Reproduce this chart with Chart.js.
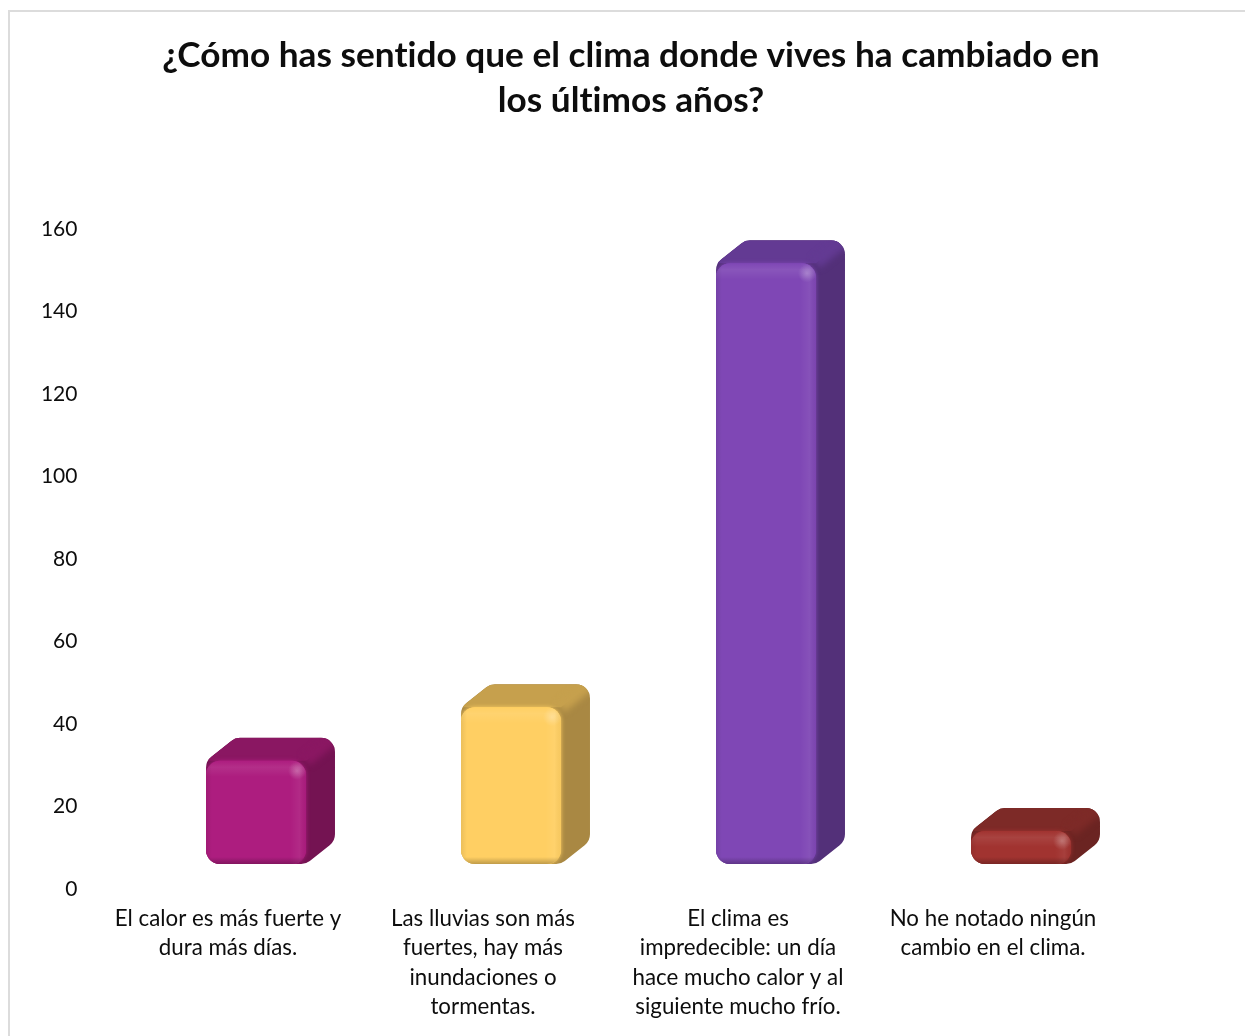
<!DOCTYPE html>
<html lang="es">
<head>
<meta charset="utf-8">
<title>Clima</title>
<script src="https://cdn.jsdelivr.net/npm/chart.js@4"></script>
<style>
    html, body { margin: 0; padding: 0; background: #fff; overflow: hidden; }
    #wrap { position: relative; width: 1245px; height: 1036px; overflow: hidden; }
    #frame { position: absolute; left: 8px; top: 10px; width: 1300px; height: 1100px; border: 2px solid #dcdcdc; box-sizing: border-box; }
    canvas { position: absolute; left: 0; top: 0; }
</style>
</head>
<body>
<div id="wrap">
    <div id="frame"></div>
    <canvas id="climaChart" width="1245" height="1036"></canvas>
</div>
<script>
const titleLines = ['¿Cómo has sentido que el clima donde vives ha cambiado en', 'los últimos años?'];
const categories = [
    ['El calor es más fuerte y', 'dura más días.'],
    ['Las lluvias son más', 'fuertes, hay más', 'inundaciones o', 'tormentas.'],
    ['El clima es', 'impredecible: un día', 'hace mucho calor y al', 'siguiente mucho frío.'],
    ['No he notado ningún', 'cambio en el clima.']
];
const responses = [25, 38, 145.6, 8];
const frontColors = ['#ad1d7f', '#ffcf63', '#7f47b5', '#a13330'];
const topColors = ['#8a1762', '#c6a04d', '#633a93', '#7d2a27'];
const sideColors = ['#741352', '#a98843', '#533079', '#6b2422'];

// The bars sit on a floor above the axis line and lean back like Excel's 3D columns
const FLOOR_LIFT = 25;
const BAR_SHIFT = 28;
const DEPTH_X = 29;
const DEPTH_Y = 23;

function roundedPoly(ctx, pts, r) {
    const last = pts[pts.length - 1];
    ctx.beginPath();
    ctx.moveTo((last[0] + pts[0][0]) / 2, (last[1] + pts[0][1]) / 2);
    pts.forEach((p, i) => {
        const next = pts[(i + 1) % pts.length];
        ctx.arcTo(p[0], p[1], next[0], next[1], r);
    });
    ctx.closePath();
}

function drawBar3d(ctx, bar, i) {
    const left = bar.x + BAR_SHIFT - bar.width / 2;
    const right = left + bar.width;
    const top = bar.y - FLOOR_LIFT;
    const bottom = bar.base - FLOOR_LIFT;
    const r = Math.min(14, (bottom - top) / 2);

    // outline of the whole block, painted as the side face
    ctx.save();
    roundedPoly(ctx, [
        [left, bottom], [left, top],
        [left + DEPTH_X, top - DEPTH_Y], [right + DEPTH_X, top - DEPTH_Y],
        [right + DEPTH_X, bottom - DEPTH_Y], [right, bottom]
    ], r);
    ctx.fillStyle = sideColors[i];
    ctx.fill();
    ctx.clip();

    // top face
    ctx.beginPath();
    ctx.moveTo(left, top);
    ctx.lineTo(left + DEPTH_X, top - DEPTH_Y);
    ctx.lineTo(right + DEPTH_X, top - DEPTH_Y);
    ctx.lineTo(right, top);
    ctx.closePath();
    ctx.fillStyle = topColors[i];
    ctx.fill();

    // soft ridge between the top and the side
    ctx.filter = 'blur(3px)';
    ctx.beginPath();
    ctx.moveTo(right, top);
    ctx.lineTo(right + DEPTH_X, top - DEPTH_Y);
    ctx.strokeStyle = topColors[i];
    ctx.lineWidth = 12;
    ctx.stroke();
    ctx.filter = 'none';

    // front face outline bleeds a little into the darker faces
    roundedPoly(ctx, [[left, top], [right, top], [right, bottom], [left, bottom]], r);
    ctx.shadowColor = frontColors[i];
    ctx.shadowBlur = 4;
    ctx.fillStyle = frontColors[i];
    ctx.fill();
    ctx.restore();

    // front face with its bevels
    ctx.save();
    roundedPoly(ctx, [[left, top], [right, top], [right, bottom], [left, bottom]], r);
    ctx.fillStyle = frontColors[i];
    ctx.fill();
    ctx.clip();

    const topBevel = ctx.createLinearGradient(0, top, 0, top + 16);
    topBevel.addColorStop(0, 'rgba(255,255,255,0)');
    topBevel.addColorStop(0.4, 'rgba(255,255,255,0.08)');
    topBevel.addColorStop(1, 'rgba(255,255,255,0)');
    ctx.fillStyle = topBevel;
    ctx.fillRect(left, top, bar.width, 16);

    const rightBevel = ctx.createLinearGradient(right - 16, 0, right, 0);
    rightBevel.addColorStop(0, 'rgba(255,255,255,0)');
    rightBevel.addColorStop(0.6, 'rgba(255,255,255,0.06)');
    rightBevel.addColorStop(1, 'rgba(0,0,0,0.03)');
    ctx.fillStyle = rightBevel;
    ctx.fillRect(right - 16, top, 16, bottom - top);

    const leftBevel = ctx.createLinearGradient(left, 0, left + 6, 0);
    leftBevel.addColorStop(0, 'rgba(0,0,0,0.08)');
    leftBevel.addColorStop(1, 'rgba(0,0,0,0)');
    ctx.fillStyle = leftBevel;
    ctx.fillRect(left, top, 6, bottom - top);

    const bottomBevel = ctx.createLinearGradient(0, bottom - 7, 0, bottom);
    bottomBevel.addColorStop(0, 'rgba(0,0,0,0)');
    bottomBevel.addColorStop(1, 'rgba(0,0,0,0.25)');
    ctx.fillStyle = bottomBevel;
    ctx.fillRect(left, bottom - 7, bar.width, 7);

    // glint on the upper right corner
    const glint = ctx.createRadialGradient(right - 9, top + 10, 0, right - 9, top + 10, 9);
    glint.addColorStop(0, 'rgba(255,255,255,0.25)');
    glint.addColorStop(1, 'rgba(255,255,255,0)');
    ctx.fillStyle = glint;
    ctx.fillRect(right - 18, top + 1, 18, 18);
    ctx.restore();
}

const bar3dPlugin = {
    id: 'bar3d',
    beforeDraw(chart) {
        // a tiny spacing switches off Lato's "ti" ligature
        chart.ctx.letterSpacing = '0.01px';
    },
    beforeDatasetDraw(chart, args) {
        args.meta.data.forEach((bar, i) => {
            drawBar3d(chart.ctx, bar.getProps(['x', 'y', 'base', 'width'], true), i);
        });
        return false;
    }
};

const ctx = document.getElementById('climaChart').getContext('2d');
new Chart(ctx, {
    type: 'bar',
    data: {
        labels: categories,
        datasets: [{
            data: responses,
            backgroundColor: frontColors,
            barPercentage: 0.392,
            categoryPercentage: 1
        }]
    },
    options: {
        responsive: false,
        animation: false,
        devicePixelRatio: 1,
        layout: { padding: { top: 0, left: 17, right: 0, bottom: 0 } },
        plugins: {
            legend: { display: false },
            tooltip: { enabled: false },
            title: {
                display: true,
                text: titleLines,
                color: '#0d0d0d',
                font: { family: 'Lato', size: 35.2, weight: 'bold', lineHeight: 1.278 },
                padding: { top: 33, bottom: 106 }
            }
        },
        scales: {
            x: {
                grid: { display: false, drawTicks: false },
                border: { display: false },
                ticks: {
                    color: '#0d0d0d',
                    font: { family: 'Lato', size: 22.3, lineHeight: 1.32 },
                    padding: 15,
                    maxRotation: 0,
                    autoSkip: false
                },
                afterFit(axis) { axis.height = 147; }
            },
            y: {
                min: 0,
                max: 160,
                grid: { display: false, drawTicks: false },
                border: { display: false },
                ticks: {
                    stepSize: 20,
                    color: '#0d0d0d',
                    font: { family: 'Lato', size: 21 },
                    padding: 23
                },
                afterFit(axis) { axis.width = 83.5; }
            },
            // empty axis: reserves the white strip right of the plot
            rightGap: {
                position: 'right',
                grid: { display: false, drawTicks: false },
                border: { display: false },
                ticks: { display: false },
                afterFit(axis) { axis.width = 124.5; }
            }
        }
    },
    plugins: [bar3dPlugin]
});
</script>
</body>
</html>
